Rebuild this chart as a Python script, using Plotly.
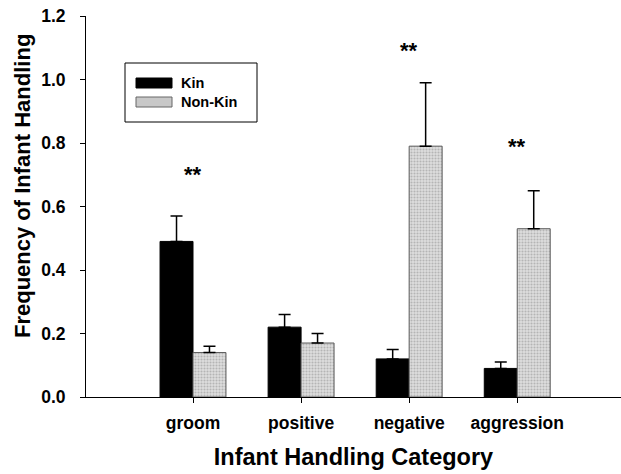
import plotly.graph_objects as go

categories = ["groom", "positive", "negative", "aggression"]
kin = [0.49, 0.22, 0.12, 0.09]
kin_err = [0.08, 0.04, 0.03, 0.02]
nonkin = [0.14, 0.17, 0.79, 0.53]
nonkin_err = [0.02, 0.03, 0.20, 0.12]
sig_labels = ["**", "", "**", "**"]
sig_y = [0.70, None, 1.09, 0.79]

FONT = "Liberation Sans, Arial, sans-serif"
W, H = 621, 474
L, R, T, B = 86, 0, 16, 77

fig = go.Figure()
fig.add_trace(go.Bar(
    x=categories, y=kin, name="Kin",
    marker=dict(color="black", line=dict(color="black", width=1)),
    error_y=dict(type="data", array=kin_err, symmetric=False, arrayminus=[0]*4,
                 color="black", thickness=1.5, width=6),
    showlegend=False,
))
fig.add_trace(go.Bar(
    x=categories, y=nonkin, name="Non-Kin",
    marker=dict(color="#d4d4d4", line=dict(color="#5a5a5a", width=1),
                pattern=dict(shape=".", fgcolor="#8c8c8c", bgcolor="#dedede", size=3, solidity=0.4)),
    error_y=dict(type="data", array=nonkin_err, symmetric=False, arrayminus=[0]*4,
                 color="black", thickness=1.5, width=6),
    showlegend=False,
))

for c, lab, yy in zip(categories, sig_labels, sig_y):
    if lab:
        fig.add_annotation(x=c, y=yy, text="<b>" + lab + "</b>", showarrow=False,
                           font=dict(family=FONT, size=22, color="black"),
                           xanchor="center", yanchor="middle")

# custom legend (paper coords derived from pixel layout)
pw, ph = W - L - R, H - T - B
def px(x):
    return (x - L) / pw
def py(y):
    return (H - B - y) / ph

fig.add_shape(type="rect", xref="paper", yref="paper",
              x0=px(125), x1=px(257), y0=py(122), y1=py(63),
              line=dict(color="black", width=1), fillcolor="white", layer="above")
legend_items = [("Kin", "black", "black", 83), ("Non-Kin", "#c8c8c8", "#666666", 102)]
for name, fc, lc, yc in legend_items:
    fig.add_shape(type="rect", xref="paper", yref="paper",
                  x0=px(136), x1=px(172), y0=py(yc + 5), y1=py(yc - 5),
                  line=dict(color=lc, width=1), fillcolor=fc, layer="above")
    fig.add_annotation(xref="paper", yref="paper", x=px(179), y=py(yc),
                       text="<b>" + name + "</b>", showarrow=False,
                       xanchor="left", yanchor="middle",
                       font=dict(family=FONT, size=14.5, color="black"))

# y-axis title as annotation (positioned like the reference)
fig.add_annotation(xref="paper", yref="paper", x=px(22), y=py(186),
                   text="<b>Frequency of Infant Handling</b>", showarrow=False,
                   textangle=-90, xanchor="center", yanchor="middle",
                   font=dict(family=FONT, size=22, color="black"))

fig.update_layout(
    width=W, height=H,
    margin=dict(l=L, r=R, t=T, b=B, pad=0),
    paper_bgcolor="white", plot_bgcolor="white",
    barmode="group", bargap=0.39, bargroupgap=0,
    font=dict(family=FONT, color="black"),
    xaxis=dict(
        type="category", range=[-0.99, 3.96],
        showline=True, linecolor="black", linewidth=1,
        ticks="outside", ticklen=5, tickcolor="black", tickwidth=1,
        tickfont=dict(family=FONT, size=17.5, color="black", weight="bold"),
        ticklabelstandoff=5,
        showgrid=False, zeroline=False,
        title=dict(text="<b>Infant Handling Category</b>",
                   font=dict(family=FONT, size=23.5), standoff=16),
    ),
    yaxis=dict(
        range=[0, 1.2], tickvals=[0, 0.2, 0.4, 0.6, 0.8, 1.0, 1.2],
        tickformat=".1f",
        showline=True, linecolor="black", linewidth=1,
        ticks="outside", ticklen=5, tickcolor="black", tickwidth=1,
        tickfont=dict(family=FONT, size=17.5, color="black", weight="bold"),
        ticklabelstandoff=11,
        showgrid=False, zeroline=False,
    ),
)

fig.write_html("out.html")
